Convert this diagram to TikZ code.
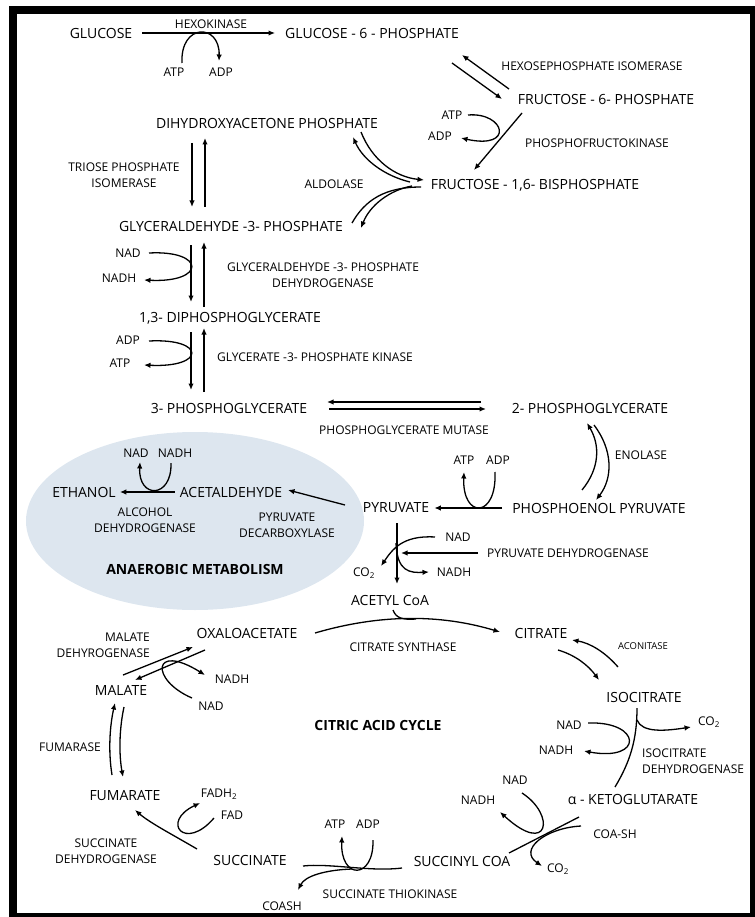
\documentclass[tikz,border=0pt]{standalone}
\usepackage{fontspec}
\setmainfont{Open Sans}
\usetikzlibrary{arrows.meta}

\definecolor{anaerobicblue}{RGB}{221,230,239}

\begin{document}
\begin{tikzpicture}[
    x=1pt, y=-1pt,
    >={Latex[length=6.5pt,width=5.5pt]},
    flow/.style={line width=1.3pt},
    metabolite/.style={inner sep=0pt, font=\fontsize{14}{16}\selectfont},
    enzyme/.style={inner sep=0pt, align=center, font=\fontsize{12}{16}\selectfont},
    cofactor/.style={inner sep=0pt, font=\fontsize{12}{14}\selectfont},
    heading/.style={inner sep=0pt, font=\bfseries\fontsize{14}{16}\selectfont},
  ]
  \useasboundingbox (0,0) rectangle (754,917);

  \fill [anaerobicblue] (195,521) ellipse [x radius=169pt, y radius=89pt];
  \draw [line width=8pt] (13,10) rectangle (754,917);

  \node [metabolite] (glucose) at (101,33) {GLUCOSE};
  \node [metabolite] (g6p) at (372,33) {GLUCOSE - 6 - PHOSPHATE};
  \node [metabolite] (f6p) at (606,99) {FRUCTOSE - 6- PHOSPHATE};
  \node [metabolite] (dhap) at (267,123) {DIHYDROXYACETONE PHOSPHATE};
  \node [metabolite] (f16bp) at (535,185) {FRUCTOSE - 1,6- BISPHOSPHATE};
  \node [metabolite] (g3p) at (231,226) {GLYCERALDEHYDE -3- PHOSPHATE};
  \node [metabolite] (dpg) at (230,318) {1,3- DIPHOSPHOGLYCERATE};
  \node [metabolite] (pg3) at (229,408) {3- PHOSPHOGLYCERATE};
  \node [metabolite] (pg2) at (590,408) {2- PHOSPHOGLYCERATE};
  \node [metabolite] (pep) at (599,508) {PHOSPHOENOL PYRUVATE};
  \node [metabolite] (pyruvate) at (396,508) {PYRUVATE};
  \node [metabolite] (acetaldehyde) at (231,492) {ACETALDEHYDE};
  \node [metabolite] (ethanol) at (84,492) {ETHANOL};
  \node [metabolite] (acetylcoa) at (390,600) {ACETYL CoA};
  \node [metabolite] (oxaloacetate) at (247,633) {OXALOACETATE};
  \node [metabolite] (citrate) at (541,633) {CITRATE};
  \node [metabolite] (isocitrate) at (644,697) {ISOCITRATE};
  \node [metabolite] (malate) at (121,690) {MALATE};
  \node [metabolite] (fumarate) at (125,796) {FUMARATE};
  \node [metabolite] (ketoglutarate) at (633,799) {α - KETOGLUTARATE};
  \node [metabolite] (succinate) at (250,860) {SUCCINATE};
  \node [metabolite] (succinylcoa) at (462,861) {SUCCINYL COA};

  \node [enzyme] (hexokinase) at (211,24) {HEXOKINASE};
  \node [enzyme] (isomerase) at (592,66) {HEXOSEPHOSPHATE ISOMERASE};
  \node [enzyme] (pfk) at (597,143) {PHOSPHOFRUCTOKINASE};
  \node [enzyme] (tpi) at (124,175) {TRIOSE PHOSPHATE\\ISOMERASE};
  \node [enzyme] (aldolase) at (334,184) {ALDOLASE};
  \node [enzyme] (gapdh) at (323,275) {GLYCERALDEHYDE -3- PHOSPHATE\\DEHYDROGENASE};
  \node [enzyme] (pgk) at (315,357) {GLYCERATE -3- PHOSPHATE KINASE};
  \node [enzyme] (mutase) at (404,430) {PHOSPHOGLYCERATE MUTASE};
  \node [enzyme] (enolase) at (641,455) {ENOLASE};
  \node [enzyme] (adh) at (145,520) {ALCOHOL\\DEHYDROGENASE};
  \node [enzyme] (pdc) at (287,525) {PYRUVATE\\DECARBOXYLASE};
  \node [enzyme] (pdh) at (568,553) {PYRUVATE DEHYDROGENASE};
  \node [heading] (anaerobic) at (195,569) {ANAEROBIC METABOLISM};
  \node [enzyme] (synthase) at (403,647) {CITRATE SYNTHASE};
  \node [enzyme, font=\fontsize{9.5}{11}\selectfont] (aconitase) at (643,646) {ACONITASE};
  \node [enzyme, align=right, anchor=east] (mdh) at (150,645) {MALATE\\DEHYROGENASE};
  \node [heading] (cycle) at (378,725) {CITRIC ACID CYCLE};
  \node [enzyme] (fumarase) at (70,747) {FUMARASE};
  \node [enzyme, align=left, anchor=west] (idh) at (642,761) {ISOCITRATE\\DEHYDROGENASE};
  \node [enzyme] (sdh) at (106,851) {SUCCINATE\\DEHYDROGENASE};
  \node [enzyme] (thiokinase) at (390,894) {SUCCINATE THIOKINASE};

  \node [cofactor] (atp hk) at (174,72) {ATP};
  \node [cofactor] (adp hk) at (221,72) {ADP};
  \node [cofactor] (atp pfk) at (452,115) {ATP};
  \node [cofactor] (adp pfk) at (440,136) {ADP};
  \node [cofactor] (nad gapdh) at (128,253) {NAD};
  \node [cofactor] (nadh gapdh) at (119,278) {NADH};
  \node [cofactor] (adp pgk) at (128,340) {ADP};
  \node [cofactor] (atp pgk) at (120,363) {ATP};
  \node [cofactor] (nad adh) at (136,453) {NAD};
  \node [cofactor] (nadh adh) at (175,453) {NADH};
  \node [cofactor] (atp pk) at (464,460) {ATP};
  \node [cofactor] (adp pk) at (498,460) {ADP};
  \node [cofactor] (nad pdh) at (458,537) {NAD};
  \node [cofactor] (co2 pdh) at (364,573) {CO\textsubscript{2}};
  \node [cofactor] (nadh pdh) at (454,572) {NADH};
  \node [cofactor] (nadh mdh) at (232,679) {NADH};
  \node [cofactor] (nad mdh) at (211,706) {NAD};
  \node [cofactor] (nad idh) at (569,725) {NAD};
  \node [cofactor] (co2 idh) at (709,722) {CO\textsubscript{2}};
  \node [cofactor] (nadh idh) at (556,750) {NADH};
  \node [cofactor] (nad kg) at (515,780) {NAD};
  \node [cofactor] (nadh kg) at (478,800) {NADH};
  \node [cofactor] (coa kg) at (615,834) {COA-SH};
  \node [cofactor] (co2 kg) at (558,869) {CO\textsubscript{2}};
  \node [cofactor] (fadh2 sdh) at (219,794) {FADH\textsubscript{2}};
  \node [cofactor] (fad sdh) at (232,815) {FAD};
  \node [cofactor] (atp stk) at (335,824) {ATP};
  \node [cofactor] (adp stk) at (368,824) {ADP};
  \node [cofactor] (coa stk) at (282,906) {COASH};

  \draw [flow, ->]
    ([xshift=10pt]glucose.east)
    -- ([xshift=-10pt]g6p.west)
  ;
  \draw [flow, ->]
    (182,63)
    .. controls (180,23) and (220,23) ..
    (219,61)
  ;

  \draw [flow, ->] (509,89) -- (462,55);
  \draw [flow, ->] (452,63) -- (502,99);

  \draw [flow, ->] (522,113) -- (474,170);
  \draw [flow, ->]
    (468,115)
    .. controls (505,112) and (515,150) ..
    (461,138)
  ;

  \draw [flow, ->]
    (410,182)
    .. controls (385,176) and (363,160) ..
    (353,137)
  ;
  \draw [flow, ->]
    (361,132)
    .. controls (372,160) and (395,177) ..
    (424,180)
  ;
  \draw [flow, ->]
    (412,186)
    .. controls (390,190) and (370,205) ..
    (361,228)
  ;
  \draw [flow]
    (352,223)
    .. controls (365,200) and (385,187) ..
    (421,187)
  ;

  \draw [flow, ->] (192,143) -- (192,207);
  \draw [flow, ->] (205,207) -- (205,138);

  \draw [flow, ->] (191,245) -- (191,302);
  \draw [flow, ->] (204,307) -- (204,242);
  \draw [flow, ->]
    (149,253)
    .. controls (206,250) and (206,283) ..
    (144,280)
  ;

  \draw [flow, ->] (191,332) -- (191,390);
  \draw [flow, ->] (204,392) -- (204,328);
  \draw [flow, ->]
    (149,341)
    .. controls (206,338) and (206,368) ..
    (144,365)
  ;

  \draw [flow, ->] (481,402) -- (327,402);
  \draw [flow, ->] (329,409) -- (486,409);

  \draw [flow, ->]
    (582,490)
    .. controls (600,468) and (600,445) ..
    (587,423)
  ;
  \draw [flow, ->]
    (594,425)
    .. controls (613,450) and (613,478) ..
    (596,500)
  ;

  \draw [flow, ->]
    ([xshift=-10pt]pep.west)
    -- ([xshift=5pt]pyruvate.east)
  ;
  \draw [flow, ->]
    (495,472)
    .. controls (497,519) and (462,519) ..
    (464,472)
  ;

  \draw [flow, ->] (345,505) -- (288,490);

  \draw [flow, ->]
    ([xshift=-5pt]acetaldehyde.west)
    -- ([xshift=4pt]ethanol.east)
  ;
  \draw [flow, ->]
    (171,463)
    .. controls (172,499) and (138,499) ..
    (140,462)
  ;

  \draw [flow, ->] (397,523) -- (397,584);
  \draw [flow, ->] (478,553) -- (401,553);
  \draw [flow, ->]
    (435,537)
    .. controls (402,535) and (392,550) ..
    (381,566)
  ;
  \draw [flow, ->]
    (396,543)
    .. controls (397,572) and (410,573) ..
    (429,572)
  ;

  \draw [flow, ->]
    (315,633)
    .. controls (380,614) and (440,614) ..
    (500,632)
  ;
  \draw [flow]
    (393,610)
    .. controls (396,618) and (402,620) ..
    (416,619)
  ;

  \draw [flow, ->]
    (618,667)
    .. controls (605,652) and (590,643) ..
    (572,640)
  ;
  \draw [flow, ->]
    (558,650)
    .. controls (575,655) and (588,665) ..
    (599,680)
  ;

  \draw [flow]
    (637,708)
    .. controls (637,740) and (630,762) ..
    (615,787)
  ;
  \draw [flow, ->]
    (637,720)
    .. controls (642,733) and (665,731) ..
    (691,727)
  ;
  \draw [flow, ->]
    (588,723)
    .. controls (642,721) and (644,762) ..
    (584,751)
  ;

  \draw [flow] (579,817) -- (509,853);
  \draw [flow, ->]
    (522,793)
    .. controls (556,815) and (549,857) ..
    (500,812)
  ;
  \draw [flow, ->]
    (581,826)
    .. controls (545,828) and (518,850) ..
    (542,866)
  ;

  \draw [flow]
    (402,868)
    .. controls (370,872) and (330,863) ..
    (303,866)
  ;
  \draw [flow, ->]
    (373,840)
    .. controls (374,880) and (340,880) ..
    (342,836)
  ;
  \draw [flow, ->]
    (352,869)
    .. controls (325,870) and (305,876) ..
    (298,890)
  ;

  \draw [flow, ->]
    (197,849)
    .. controls (175,836) and (150,823) ..
    (135,810)
  ;
  \draw [flow, ->]
    (214,818)
    .. controls (185,852) and (160,822) ..
    (200,803)
  ;

  \draw [flow, ->]
    (112,775)
    .. controls (108,750) and (110,725) ..
    (115,703)
  ;
  \draw [flow, ->]
    (124,707)
    .. controls (119,730) and (119,755) ..
    (123,777)
  ;

  \draw [flow, ->] (123,675) -- (193,647);
  \draw [flow, ->] (205,650) -- (135,680);
  \draw [flow, ->]
    (192,698)
    .. controls (150,680) and (152,642) ..
    (205,675)
  ;
\end{tikzpicture}
\end{document}
